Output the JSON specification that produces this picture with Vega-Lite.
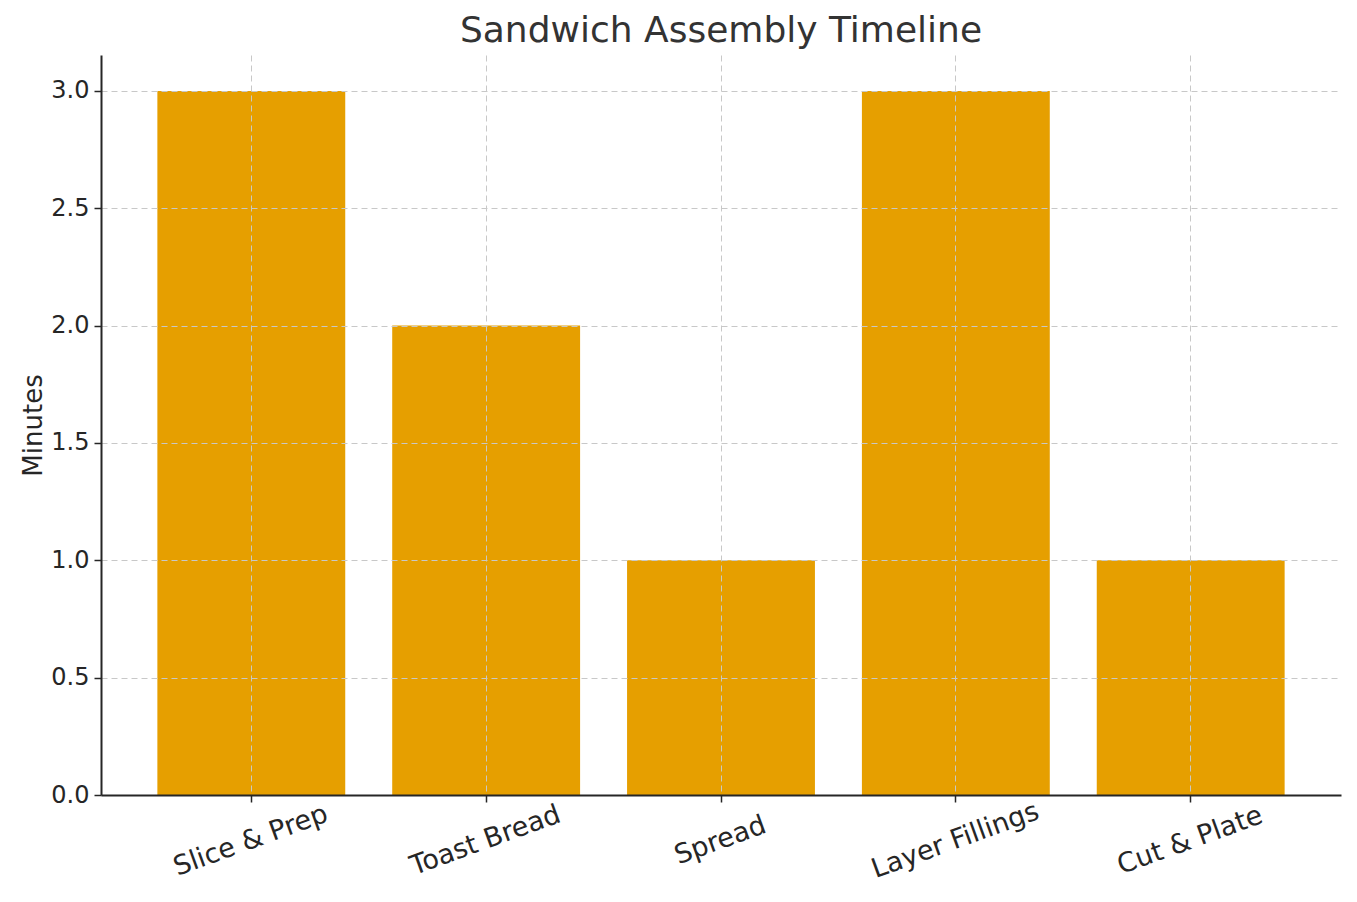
{
  "$schema": "https://vega.github.io/schema/vega-lite/v6.json",
  "autosize": "none",
  "width": 1240,
  "height": 740,
  "padding": {"left": 101, "top": 55, "right": 16, "bottom": 107},
  "background": "white",
  "config": {
    "font": "DejaVu Sans",
    "view": {"stroke": null}
  },
  "title": {
    "text": "Sandwich Assembly Timeline",
    "fontSize": 36,
    "fontWeight": "normal",
    "color": "#333333",
    "font": "DejaVu Sans",
    "offset": 5,
    "anchor": "middle"
  },
  "data": {
    "values": [
      {"step": "Slice & Prep", "minutes": 3},
      {"step": "Toast Bread", "minutes": 2},
      {"step": "Spread", "minutes": 1},
      {"step": "Layer Fillings", "minutes": 3},
      {"step": "Cut & Plate", "minutes": 1}
    ]
  },
  "mark": {"type": "bar", "color": "#E69F00"},
  "encoding": {
    "x": {
      "field": "step",
      "type": "nominal",
      "sort": null,
      "scale": {"paddingInner": 0.2, "paddingOuter": 0.24},
      "axis": {
        "title": null,
        "labelAngle": -20,
        "labelAlign": "center",
        "labelBaseline": "top",
        "labelFontSize": 27,
        "labelColor": "#262626",
        "labelPadding": 26,
        "labelOffset": -5,
        "tickSize": 7,
        "tickWidth": 1.5,
        "tickColor": "#262626",
        "domainColor": "#262626",
        "domainWidth": 2,
        "grid": true,
        "gridColor": "#c8c8c8",
        "gridDash": [6, 4],
        "gridWidth": 1,
        "zindex": 1
      }
    },
    "y": {
      "field": "minutes",
      "type": "quantitative",
      "scale": {"domain": [0, 3.153], "nice": false, "zero": true},
      "axis": {
        "title": "Minutes",
        "titleFontSize": 26,
        "titleFontWeight": "normal",
        "titleColor": "#262626",
        "titlePadding": 4,
        "values": [0, 0.5, 1, 1.5, 2, 2.5, 3],
        "format": ".1f",
        "labelFontSize": 24,
        "labelColor": "#262626",
        "labelPadding": 5,
        "tickSize": 7,
        "tickWidth": 1.5,
        "tickColor": "#262626",
        "domainColor": "#262626",
        "domainWidth": 2,
        "grid": true,
        "gridColor": "#c8c8c8",
        "gridDash": [6, 4],
        "gridWidth": 1,
        "zindex": 1
      }
    }
  }
}
